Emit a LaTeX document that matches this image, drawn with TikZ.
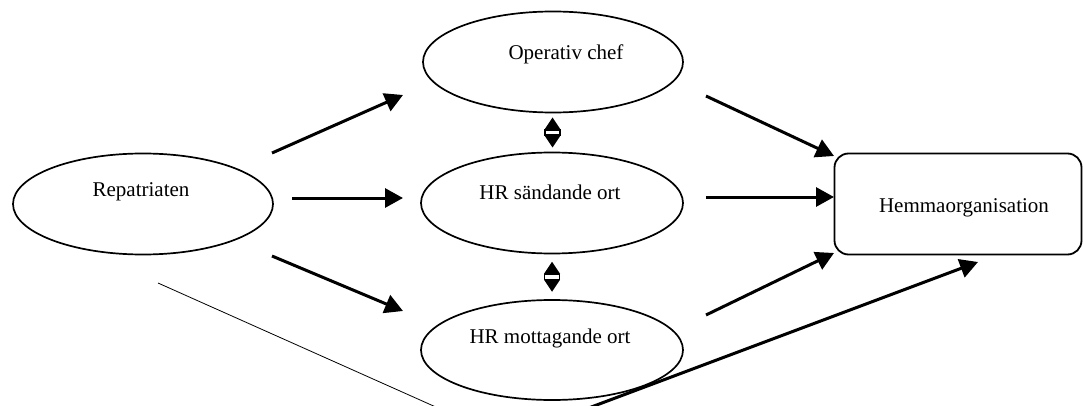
\documentclass[tikz,border=0pt]{standalone}
\usepackage{fontspec}
\setmainfont{Liberation Serif}
\usetikzlibrary{arrows.meta,shapes.geometric,backgrounds}
% place a label inside a fixed-size shape, shifted by (dx, raise) without changing the shape
\newcommand{\shiftlabel}[3]{\raisebox{#2pt}[0pt][0pt]{\makebox[0pt]{\hspace*{#1pt}\hspace*{#1pt}#3}}}
\tikzset{
  oval/.style={ellipse, draw, fill=white, line width=1.7pt, inner sep=0pt,
               minimum width=260pt, minimum height=101pt},
  orgbox/.style={rectangle, draw, fill=white, line width=1.8pt, rounded corners=14pt, inner sep=0pt,
                 minimum width=247pt, minimum height=101pt},
  flow/.style={line width=3pt, -{Triangle[length=18pt,width=19pt]}},
  thinlink/.style={line width=0.8pt},
  updown/.pic={
    \fill (-8,-3) -- (8,-3) -- (0,-15) -- cycle;
    \fill (-8,3) -- (8,3) -- (0,15) -- cycle;
    \draw[line width=1.5pt, fill=white] (-7.5,-2.5) rectangle (7.5,2.5);
  }
}
\begin{document}
\begin{tikzpicture}[x=1pt, y=-1pt, font=\fontsize{21}{25}\selectfont]
  \useasboundingbox (0,0) rectangle (1083,406);
  \clip (0,0) rectangle (1083,406);

  % actors
  \node[oval] (rep) at (143,204) {\shiftlabel{-2}{7}{Repatriaten}};
  \node[oval] (op)  at (553,62)  {\shiftlabel{13}{2}{Operativ chef}};
  \node[oval, minimum width=262pt] (hrs) at (552,203) {\shiftlabel{-2}{4}{HR sändande ort}};
  \node[oval, minimum width=262pt, minimum height=100pt] (hrm) at (552,350) {\shiftlabel{-2}{7}{HR mottagande ort}};
  \node[orgbox] (hem) at (958,204) {\shiftlabel{6}{-9}{Hemmaorganisation}};

  % two-way links between the HR functions
  \path (op.south) -- (hrs.north) coordinate[pos=0.5] (m1);
  \path (hrs.south) -- (hrm.north) coordinate[pos=0.5] (m2);
  \pic at (m1) {updown};
  \pic at (m2) {updown};

  % flows from the repatriate
  \draw[flow] ([shift={(129,-51)}]rep.center) -- ([shift={(-150,33)}]op.center);
  \draw[flow] ([shift={(149,-6)}]rep.center)  -- ([shift={(-149,-5)}]hrs.center);
  \draw[flow] ([shift={(129,52)}]rep.center)  -- ([shift={(-149,-39)}]hrm.center);

  % flows into the home organisation
  \draw[flow] ([shift={(153,34)}]op.center)   -- ([shift={(-124,-48)}]hem.center);
  \draw[flow] ([shift={(154,-6)}]hrs.center)  -- ([shift={(-124,-7)}]hem.center);
  \draw[flow] ([shift={(154,-35)}]hrm.center) -- ([shift={(-124,49)}]hem.center);

  % direct route below the diagram, passing under the lower ellipse
  \coordinate (low1) at (447,412);
  \coordinate (low2) at (570,415);
  \begin{scope}[on background layer]
    \draw[thinlink] ([shift={(15,79)}]rep.center) -- (low1);
    \draw[flow] (low2) -- ([shift={(20,58)}]hem.center);
  \end{scope}
\end{tikzpicture}
\end{document}
